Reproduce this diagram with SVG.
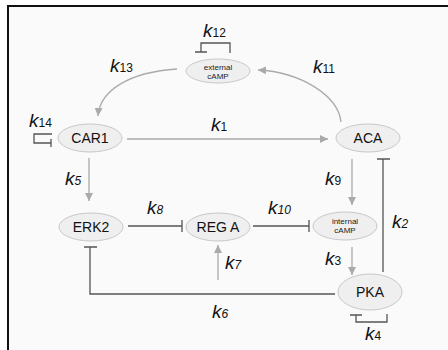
<svg xmlns="http://www.w3.org/2000/svg" width="448" height="350" viewBox="0 0 448 350">
<defs>
<marker id="ah" viewBox="0 0 10 10" refX="10" refY="5" markerWidth="8" markerHeight="8" markerUnits="userSpaceOnUse" orient="auto">
<path d="M0,0 L10,5 L0,10 Z" fill="#aaa"/>
</marker>
</defs>
<style>
.node ellipse{fill:#efefef;stroke:#c8c8c8;stroke-width:1}
.nl{font-family:"Liberation Sans",Arial,sans-serif;font-size:14px;fill:#111;text-anchor:middle}
.sm{font-family:"Liberation Sans",Arial,sans-serif;font-size:8px;fill:#222;text-anchor:middle}
.act{fill:none;stroke:#aaa;stroke-width:1.3;marker-end:url(#ah)}
.inh{fill:none;stroke:#555;stroke-width:1.3}
.k{font-family:"Liberation Sans",Arial,sans-serif;font-size:19px;font-style:italic;fill:#111}
.s{font-size:12px;font-style:normal}
.si{font-size:12px;font-style:italic}
</style>
<rect x="8" y="6" width="452" height="360" fill="#fafafa" stroke="#111" stroke-width="2"/>
<g id="connectors">
<path class="act" d="M127,139 H328"/>
<path class="act" d="M89,158 V201"/>
<path class="act" d="M352,159 V205"/>
<path class="act" d="M352,247 V275"/>
<path class="act" d="M218,280 V245"/>
<path class="act" d="M341,122 C338,95 300,72 258,70"/>
<path class="act" d="M177,69 C130,72 100,90 98,116"/>
<path class="inh" d="M128,226 H182 M182,220 V232"/>
<path class="inh" d="M253,226 H309 M309,220 V232"/>
<path class="inh" d="M383,272 V159 M377,159 H390"/>
<path class="inh" d="M335,294 H90 V247 M84,247 H97"/>
<path class="inh" d="M230,53 V43 H201 V52 M195,52 H207"/>
<path class="inh" d="M52,134 H34 V143 H51 M51,139 V147"/>
<path class="inh" d="M387,314 V322 H356 V315 M350,315 H362"/>
</g>
<g id="external_cAMP" class="node"><ellipse cx="218" cy="71" rx="32" ry="12"/><text class="sm" x="218" y="70">external</text><text class="sm" x="218" y="79">cAMP</text></g>
<g id="CAR1" class="node"><ellipse cx="90" cy="138" rx="32" ry="14"/><text class="nl" x="90" y="143">CAR1</text></g>
<g id="ACA" class="node"><ellipse cx="368" cy="138" rx="32" ry="14"/><text class="nl" x="368" y="143">ACA</text></g>
<g id="ERK2" class="node"><ellipse cx="91" cy="227" rx="32" ry="14"/><text class="nl" x="91" y="232">ERK2</text></g>
<g id="REGA" class="node"><ellipse cx="218" cy="227" rx="32" ry="14"/><text class="nl" x="218" y="232">REG A</text></g>
<g id="internal_cAMP" class="node"><ellipse cx="345" cy="226" rx="32" ry="14"/><text class="sm" x="345" y="224">internal</text><text class="sm" x="345" y="233">cAMP</text></g>
<g id="PKA" class="node"><ellipse cx="370" cy="292" rx="32" ry="18"/><text class="nl" x="370" y="297">PKA</text></g>
<g id="labels">
<text class="k" x="203" y="37">k<tspan class="s">12</tspan></text>
<text class="k" x="110" y="72">k<tspan class="s">13</tspan></text>
<text class="k" x="313" y="73">k<tspan class="s">11</tspan></text>
<text class="k" x="29" y="127">k<tspan class="s">14</tspan></text>
<text class="k" x="211" y="131">k<tspan class="s">1</tspan></text>
<text class="k" x="65" y="185">k<tspan class="si">5</tspan></text>
<text class="k" x="325" y="185">k<tspan class="s">9</tspan></text>
<text class="k" x="147" y="214">k<tspan class="si">8</tspan></text>
<text class="k" x="268" y="214">k<tspan class="si">10</tspan></text>
<text class="k" x="392" y="228">k<tspan class="si">2</tspan></text>
<text class="k" x="225" y="269">k<tspan class="si">7</tspan></text>
<text class="k" x="325" y="265">k<tspan class="s">3</tspan></text>
<text class="k" x="212" y="318">k<tspan class="si">6</tspan></text>
<text class="k" x="365" y="340">k<tspan class="s">4</tspan></text>
</g>
</svg>
